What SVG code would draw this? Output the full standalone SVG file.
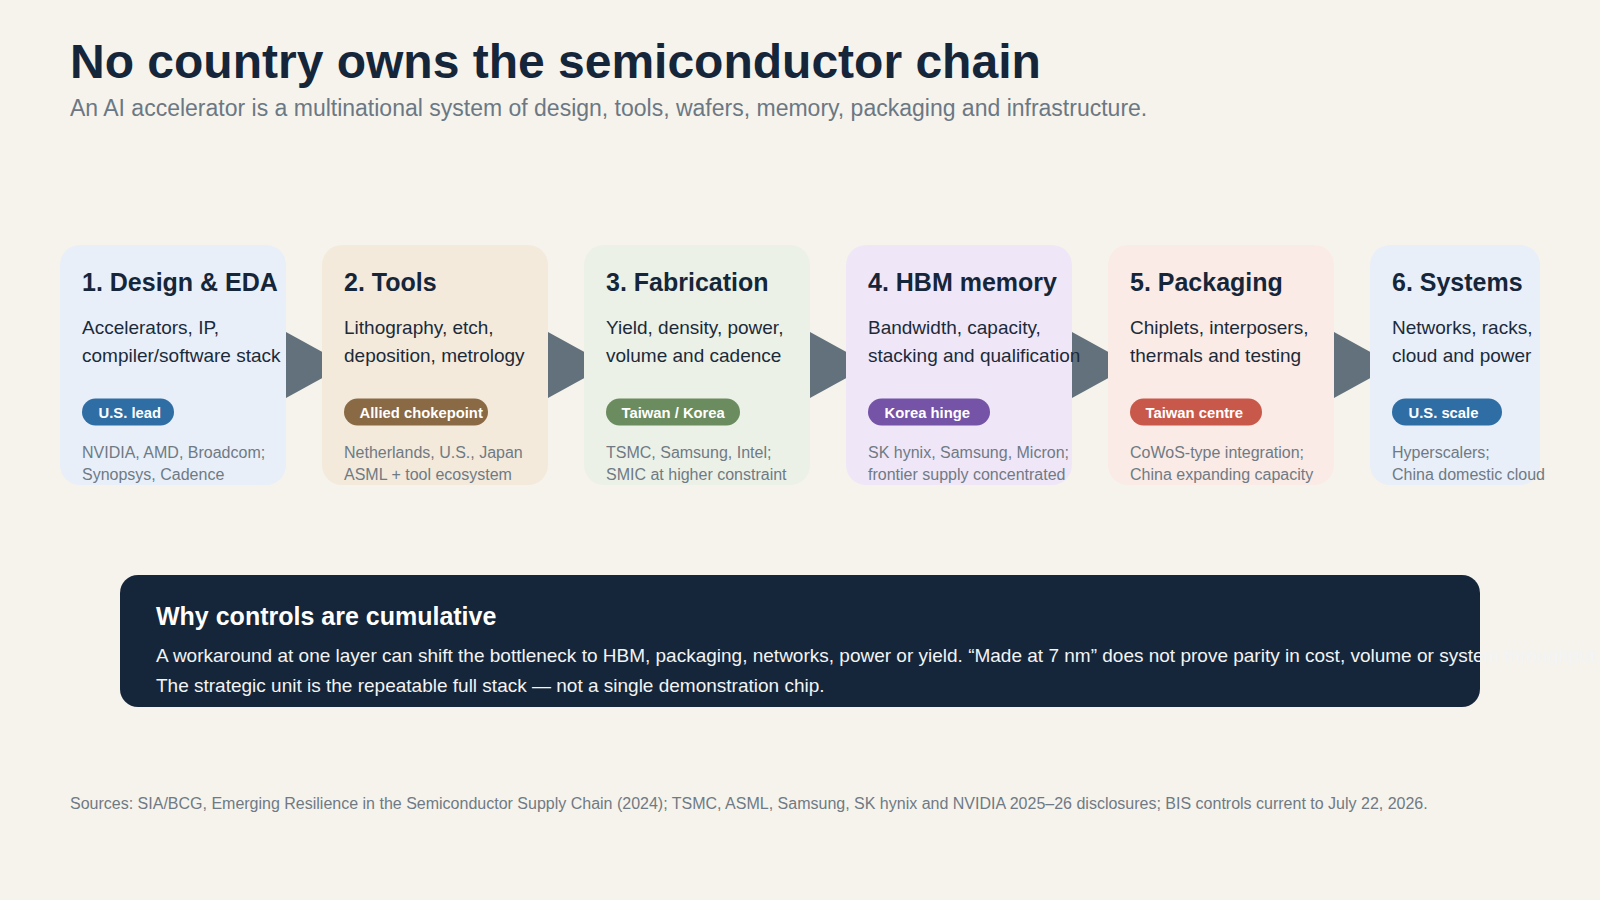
<svg xmlns="http://www.w3.org/2000/svg" width="1600" height="900" viewBox="0 0 1600 900">
  <style>
    text { font-family: "Liberation Sans", Arial, Helvetica, sans-serif; }
    .title { font-size: 48px; font-weight: 700; fill: #16263a; }
    .subtitle { font-size: 23px; fill: #6b7884; }
    .card-title { font-size: 25px; font-weight: 700; fill: #16263a; }
    .card-desc { font-size: 19px; fill: #1b2a3a; }
    .card-note { font-size: 16px; fill: #6f7a84; }
    .pill-text { font-size: 14.8px; font-weight: 700; fill: #ffffff; }
    .arrow { fill: #62717c; }
    .note-head { font-size: 25px; font-weight: 700; fill: #ffffff; }
    .note-body { font-size: 19px; fill: #f2f4f6; }
    .sources { font-size: 16px; fill: #6f7a84; }
  </style>

  <rect x="0" y="0" width="1600" height="900" fill="#f6f3ec"/>

  <text class="title" x="70" y="78">No country owns the semiconductor chain</text>
  <text class="subtitle" x="70" y="116">An AI accelerator is a multinational system of design, tools, wafers, memory, packaging and infrastructure.</text>

  <!-- flow arrows, drawn beneath the stage cards -->
  <g id="connectors">
    <polygon class="arrow" points="286,332 346,365 286,398"/>
    <polygon class="arrow" points="548,332 608,365 548,398"/>
    <polygon class="arrow" points="810,332 870,365 810,398"/>
    <polygon class="arrow" points="1072,332 1132,365 1072,398"/>
    <polygon class="arrow" points="1334,332 1394,365 1334,398"/>
  </g>

  <g id="stage-design">
    <rect x="60" y="245" width="226" height="240" rx="20" fill="#e8eff9"/>
    <text class="card-title" x="82" y="291">1. Design &amp; EDA</text>
    <text class="card-desc" x="82" y="334">Accelerators, IP,</text>
    <text class="card-desc" x="82" y="362">compiler/software stack</text>
    <rect x="82" y="398.5" width="92" height="27" rx="13.5" fill="#2f6ea5"/>
    <text class="pill-text" x="98.5" y="417.5">U.S. lead</text>
    <text class="card-note" x="82" y="458">NVIDIA, AMD, Broadcom;</text>
    <text class="card-note" x="82" y="480">Synopsys, Cadence</text>
  </g>

  <g id="stage-tools">
    <rect x="322" y="245" width="226" height="240" rx="20" fill="#f3eadc"/>
    <text class="card-title" x="344" y="291">2. Tools</text>
    <text class="card-desc" x="344" y="334">Lithography, etch,</text>
    <text class="card-desc" x="344" y="362">deposition, metrology</text>
    <rect x="344" y="398.5" width="144" height="27" rx="13.5" fill="#8a6a45"/>
    <text class="pill-text" x="359.5" y="417.5">Allied chokepoint</text>
    <text class="card-note" x="344" y="458">Netherlands, U.S., Japan</text>
    <text class="card-note" x="344" y="480">ASML + tool ecosystem</text>
  </g>

  <g id="stage-fabrication">
    <rect x="584" y="245" width="226" height="240" rx="20" fill="#ecf1e7"/>
    <text class="card-title" x="606" y="291">3. Fabrication</text>
    <text class="card-desc" x="606" y="334">Yield, density, power,</text>
    <text class="card-desc" x="606" y="362">volume and cadence</text>
    <rect x="606" y="398.5" width="134" height="27" rx="13.5" fill="#6b8c5f"/>
    <text class="pill-text" x="621.5" y="417.5">Taiwan / Korea</text>
    <text class="card-note" x="606" y="458">TSMC, Samsung, Intel;</text>
    <text class="card-note" x="606" y="480">SMIC at higher constraint</text>
  </g>

  <g id="stage-hbm">
    <rect x="846" y="245" width="226" height="240" rx="20" fill="#efe7f8"/>
    <text class="card-title" x="868" y="291">4. HBM memory</text>
    <text class="card-desc" x="868" y="334">Bandwidth, capacity,</text>
    <text class="card-desc" x="868" y="362">stacking and qualification</text>
    <rect x="868" y="398.5" width="122" height="27" rx="13.5" fill="#7553a6"/>
    <text class="pill-text" x="884.5" y="417.5">Korea hinge</text>
    <text class="card-note" x="868" y="458">SK hynix, Samsung, Micron;</text>
    <text class="card-note" x="868" y="480">frontier supply concentrated</text>
  </g>

  <g id="stage-packaging">
    <rect x="1108" y="245" width="226" height="240" rx="20" fill="#faebe6"/>
    <text class="card-title" x="1130" y="291">5. Packaging</text>
    <text class="card-desc" x="1130" y="334">Chiplets, interposers,</text>
    <text class="card-desc" x="1130" y="362">thermals and testing</text>
    <rect x="1130" y="398.5" width="132" height="27" rx="13.5" fill="#c8594a"/>
    <text class="pill-text" x="1145.5" y="417.5">Taiwan centre</text>
    <text class="card-note" x="1130" y="458">CoWoS-type integration;</text>
    <text class="card-note" x="1130" y="480">China expanding capacity</text>
  </g>

  <g id="stage-systems">
    <rect x="1370" y="245" width="170" height="240" rx="20" fill="#e8eff9"/>
    <text class="card-title" x="1392" y="291">6. Systems</text>
    <text class="card-desc" x="1392" y="334">Networks, racks,</text>
    <text class="card-desc" x="1392" y="362">cloud and power</text>
    <rect x="1392" y="398.5" width="110" height="27" rx="13.5" fill="#2f6ea5"/>
    <text class="pill-text" x="1408.5" y="417.5">U.S. scale</text>
    <text class="card-note" x="1392" y="458">Hyperscalers;</text>
    <text class="card-note" x="1392" y="480">China domestic cloud</text>
  </g>

  <g id="why-cumulative">
    <rect x="120" y="575" width="1360" height="132" rx="18" fill="#16263a"/>
    <text class="note-head" x="156" y="624.5">Why controls are cumulative</text>
    <text class="note-body" x="156" y="661.5">A workaround at one layer can shift the bottleneck to HBM, packaging, networks, power or yield. “Made at 7 nm” does not prove parity in cost, volume or system throughput.</text>
    <text class="note-body" x="156" y="691.5">The strategic unit is the repeatable full stack — not a single demonstration chip.</text>
  </g>

  <text class="sources" x="70" y="809">Sources: SIA/BCG, Emerging Resilience in the Semiconductor Supply Chain (2024); TSMC, ASML, Samsung, SK hynix and NVIDIA 2025–26 disclosures; BIS controls current to July 22, 2026.</text>
</svg>
